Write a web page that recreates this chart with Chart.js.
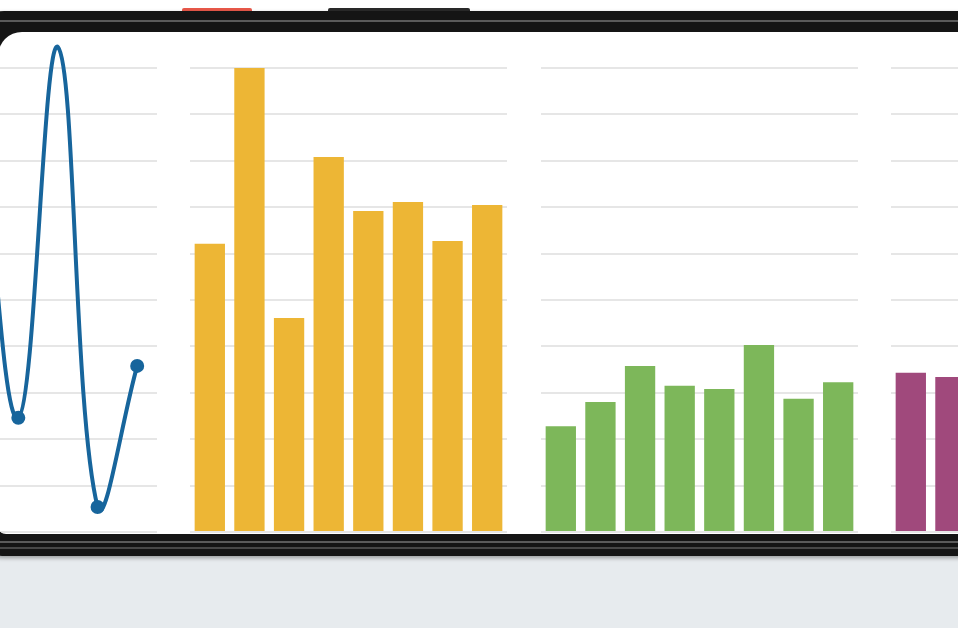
<!DOCTYPE html>
<html>
<head>
<meta charset="utf-8">
<script src="https://cdn.jsdelivr.net/npm/chart.js@4"></script>
<style>
  html, body { margin: 0; padding: 0; }
  body {
    width: 958px; height: 628px; overflow: hidden; position: relative;
    background: linear-gradient(#ffffff 0, #ffffff 300px, #e7ebee 300px);
  }
  .btn { position: absolute; top: 8px; height: 6px; border-radius: 2px 2px 0 0; }
  .phone {
    position: absolute; left: -30px; top: 11px; width: 1030px; height: 545px;
    background: #151515; border-radius: 34px;
    box-shadow: 0 2px 4px rgba(0,0,0,0.35);
  }
  .stripe { position: absolute; left: 0; width: 100%; height: 2px; background: #6d6d6d; opacity: 0.8; }
  .screen {
    position: absolute; left: -2px; top: 32px; width: 1000px; height: 502px;
    background: #ffffff; border-radius: 24px 0 0 8px; overflow: hidden;
  }
  .screen canvas { position: absolute; top: 4px; }
</style>
</head>
<body>
<div class="btn" style="left:182px;width:70px;background:#e8584a;"></div>
<div class="btn" style="left:328px;width:142px;background:#2a2a2a;"></div>
<div class="phone">
  <div class="stripe" style="top:9px;"></div>
  <div class="stripe" style="top:530px;"></div>
  <div class="stripe" style="top:536px;background:#555;"></div>
</div>
<div class="screen">
  <canvas id="lineChart"></canvas>
  <canvas id="yellowChart"></canvas>
  <canvas id="greenChart"></canvas>
  <canvas id="purpleChart"></canvas>
</div>

<script>
// data (y scale 0..100)
const categories = ['1', '2', '3', '4', '5', '6', '7', '8'];
const lineValues = [null, null, null, 95, 24.6, 104.5, 5.4, 35.8];
const yellowValues = [62.1, 100, 46.1, 80.8, 69.2, 71.1, 62.7, 70.5];
const greenValues = [22.8, 28.0, 35.8, 31.5, 30.8, 40.3, 28.7, 32.3];
const purpleValues = [34.3, 33.4, null, null, null, null, null, null];
const yTicks = { min: 0, max: 100, step: 10 };

const panelWidth = 317;
const panelHeight = 510;

function options() {
  return {
    responsive: false,
    animation: false,
    layout: { autoPadding: false, padding: { top: 32, bottom: 14, left: 0, right: 0 } },
    plugins: { legend: { display: false }, tooltip: { enabled: false } },
    scales: {
      x: { display: false, offset: true },
      y: {
        min: yTicks.min,
        max: yTicks.max,
        ticks: { display: false, stepSize: yTicks.step },
        border: { display: false },
        grid: { color: '#e6e6e6', lineWidth: 2, drawTicks: false }
      }
    }
  }
}

function makeChart(id, left, config) {
  const canvas = document.getElementById(id)
  canvas.width = panelWidth
  canvas.height = panelHeight
  canvas.style.left = (left + 2) + 'px'
  return new Chart(canvas.getContext('2d'), config)
}

function barConfig(values, color) {
  return {
    type: 'bar',
    data: {
      labels: categories,
      datasets: [{
        data: values,
        backgroundColor: color,
        categoryPercentage: 0.9,
        barPercentage: 0.85
      }]
    },
    options: options()
  }
}

makeChart('lineChart', -160, {
  type: 'line',
  data: {
    labels: categories,
    datasets: [{
      data: lineValues,
      borderColor: '#17659c',
      backgroundColor: '#17659c',
      borderWidth: 4,
      pointRadius: 5,
      tension: 0.4,
      clip: false
    }]
  },
  options: options()
})
makeChart('yellowChart', 190, barConfig(yellowValues, '#edb635'))
makeChart('greenChart', 541, barConfig(greenValues, '#7db75a'))
makeChart('purpleChart', 891, barConfig(purpleValues, '#a0497c'))
</script>
</body>
</html>
